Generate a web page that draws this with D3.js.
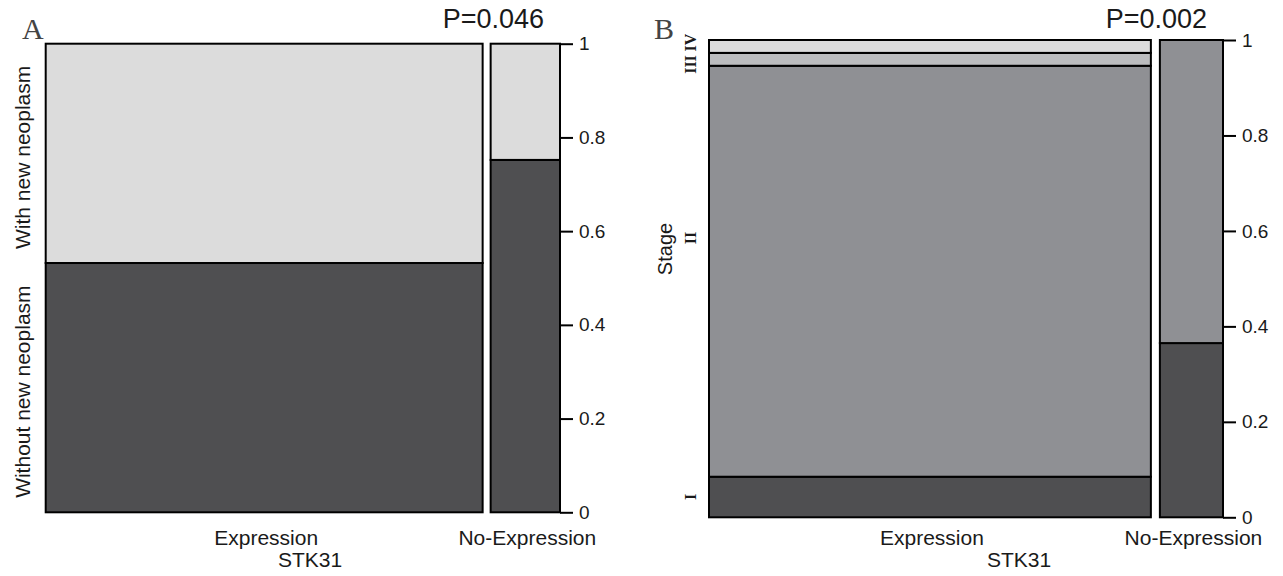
<!DOCTYPE html>
<html>
<head>
<meta charset="utf-8">
<script src="https://cdn.jsdelivr.net/npm/d3@7"></script>
<style>
  body { margin: 0; background: #fff; }
  svg { display: block; }
  text { font-family: "Liberation Sans", Arial, sans-serif; fill: #1a1a1a; }
  .roman { font-family: "Liberation Serif", "Times New Roman", serif; }
  .tag { font-family: "Liberation Serif", "Times New Roman", serif; fill: #444; }
</style>
</head>
<body>
<div class="content"></div>
<script>
// data
const columns = ["Expression", "No-Expression"];
const ticks = [0, 0.2, 0.4, 0.6, 0.8, 1];

// panel A : share of each column, then stacked proportions (bottom -> top)
const colShareA = [0.863, 0.137];
const groupsA = ["Without new neoplasm", "With new neoplasm"];
const withoutA = [0.532, 0.752];
const withA = [0.468, 0.248];
const pA = "P=0.046";

// panel B
const colShareB = [0.875, 0.125];
const stagesB = ["I", "II", "III", "IV"];
const stageIB = [0.085, 0.365];
const stageIIB = [0.861, 0.635];
const stageIIIB = [0.027, 0];
const stageIVB = [0.027, 0];
const pB = "P=0.002";

const colorsA = ["#4f4f51", "#dcdcdc"];
const colorsB = ["#4f4f51", "#8f9094", "#bcbdbf", "#dcdcdc"];

const W = 1283, H = 576;
const svg = d3.select('.content')
  .append('svg')
  .attr('width', W)
  .attr('height', H);

function drawPanel(cfg) {
  const g = svg.append("g");
  const n = cfg.share.length;

  const x = d3.scaleLinear()
    .domain([0, 1])
    .range([cfg.left, cfg.right - cfg.gap * (n - 1)]);
  const y = d3.scaleLinear()
    .domain([0, 1])
    .range([cfg.bottom, cfg.top]);

  // build cells
  const cells = [];
  const cols = [];
  let start = 0;
  cfg.share.forEach((s, c) => {
    let cum = 0;
    cfg.series.forEach((ser, k) => {
      const v = ser[c];
      if (v > 0) cells.push({ c, k, x0: start, x1: start + s, y0: cum, y1: cum + v });
      cum += v;
    });
    cols.push({ c, x0: start, x1: start + s });
    start += s;
  });

  g.selectAll("rect")
    .data(cells)
    .enter().append("rect")
    .attr("x", d => x(d.x0) + d.c * cfg.gap)
    .attr("width", d => x(d.x1) - x(d.x0))
    .attr("y", d => y(d.y1))
    .attr("height", d => y(d.y0) - y(d.y1))
    .attr("fill", d => cfg.colors[d.k])
    .attr("stroke", "#000")
    .attr("stroke-width", 2);

  // right axis
  g.append("g")
    .attr("transform", `translate(${cfg.right}, 0)`)
    .call(d3.axisRight(y).tickValues(ticks).tickFormat(d => String(d)).tickSize(13).tickSizeOuter(0).tickPadding(6))
    .call(a => a.select(".domain").remove())
    .call(a => a.selectAll("line").attr("stroke", "#000").attr("stroke-width", 2))
    .call(a => a.selectAll("text").attr("font-size", 19).attr("font-family", "Liberation Sans, Arial, sans-serif").attr("fill", "#1a1a1a"));

  // column labels
  g.selectAll(".colLabel")
    .data(cols)
    .enter().append("text")
    .attr("class", "colLabel")
    .attr("x", d => (x(d.x0) + x(d.x1)) / 2 + d.c * cfg.gap + 2)
    .attr("y", cfg.labelY)
    .attr("text-anchor", "middle")
    .attr("font-size", 21)
    .text(d => columns[d.c]);

  g.append("text")
    .attr("x", cfg.titleX)
    .attr("y", 567)
    .attr("text-anchor", "middle")
    .attr("font-size", 21)
    .text("STK31");

  g.append("text")
    .attr("x", cfg.pX)
    .attr("y", 28)
    .attr("text-anchor", "end")
    .attr("font-size", 27)
    .text(cfg.p);

  g.append("text")
    .attr("class", "tag")
    .attr("x", cfg.tagX)
    .attr("y", 39)
    .attr("font-size", 30)
    .text(cfg.tag);

  return { x, y };
}

// Panel A
const scA = drawPanel({
  left: 45.7, right: 560, top: 43.7, bottom: 512.3, gap: 8,
  share: colShareA, series: [withoutA, withA], colors: colorsA,
  labelY: 545, titleX: 310, pX: 544, p: pA, tag: "A", tagX: 22
});

// left labels A, centred on first column segments
let cumA = 0;
[withoutA, withA].forEach((ser, k) => {
  const mid = cumA + ser[0] / 2;
  cumA += ser[0];
  svg.append("text")
    .attr("transform", `translate(30, ${scA.y(mid) + 4}) rotate(-90)`)
    .attr("text-anchor", "middle")
    .attr("font-size", 21)
    .text(groupsA[k]);
});

// Panel B
const scB = drawPanel({
  left: 709, right: 1223, top: 40, bottom: 517.3, gap: 9,
  share: colShareB, series: [stageIB, stageIIB, stageIIIB, stageIVB], colors: colorsB,
  labelY: 545, titleX: 1019, pX: 1207, p: pB, tag: "B", tagX: 654
});

// stage labels (placed like the original, III/IV pushed apart)
const stageLabelY = [497, 238, 64.5, 42.5];
svg.selectAll(".stageLabel")
  .data(stagesB)
  .enter().append("text")
  .attr("class", "roman")
  .attr("transform", (d, i) => `translate(696, ${stageLabelY[i]}) rotate(-90)`)
  .attr("text-anchor", "middle")
  .attr("font-size", 16)
  .attr("font-weight", "bold")
  .text(d => d);

svg.append("text")
  .attr("transform", `translate(672, 249) rotate(-90)`)
  .attr("text-anchor", "middle")
  .attr("font-size", 20)
  .text("Stage");
</script>
</body>
</html>
